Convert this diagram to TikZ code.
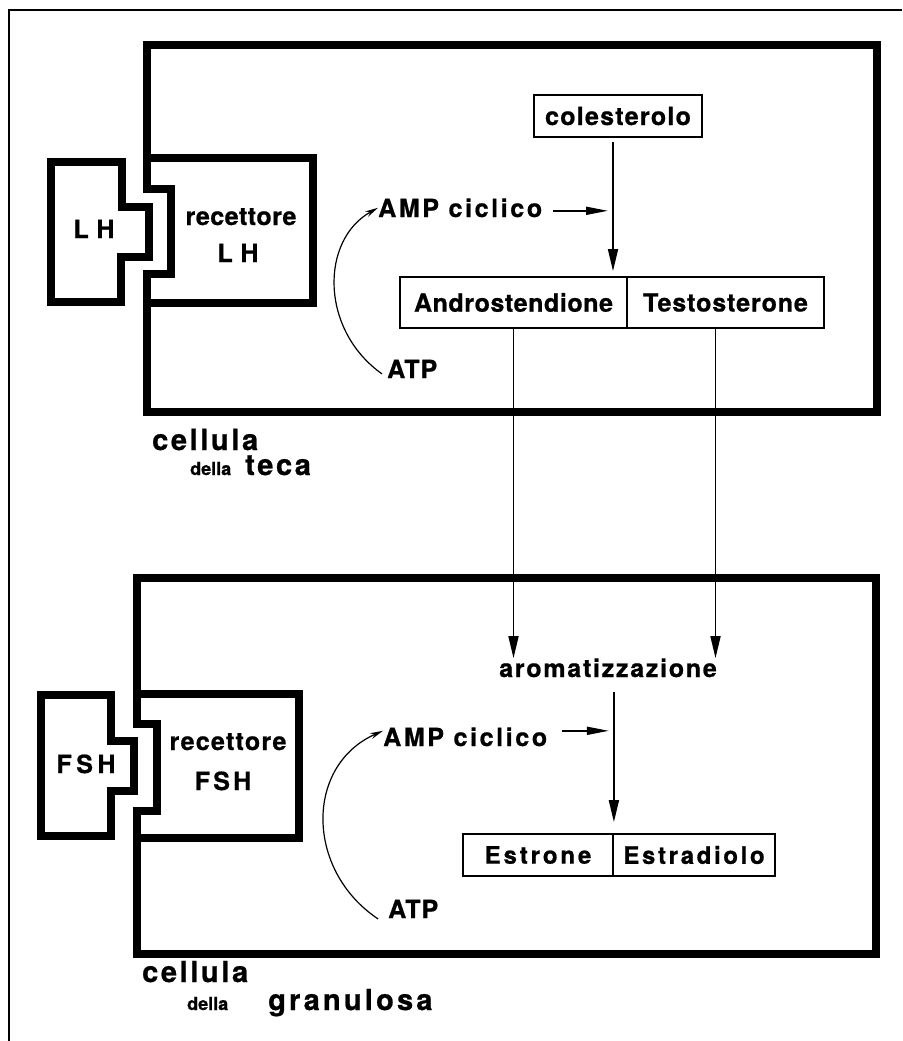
\documentclass[tikz,border=0pt]{standalone}
\usepackage{fontspec}
\newfontfamily\hv{TeX Gyre Heros}[LetterSpace=4,FakeBold=0.8]
\usetikzlibrary{arrows.meta,calc}
\tikzset{
  wall/.style={line width=8.5pt, line join=miter, miter limit=10},
  frame/.style={line width=2.3pt},
  lbl/.style={inner sep=0pt, font=\hv\bfseries\fontsize{25pt}{25pt}\selectfont},
  big/.style={inner sep=0pt, font=\hv\bfseries\fontsize{29pt}{29pt}\selectfont},
  small/.style={inner sep=0pt, font=\hv\bfseries\fontsize{18pt}{18pt}\selectfont},
  box/.style={draw, line width=1.8pt, inner sep=0pt, font=\hv\bfseries\fontsize{25pt}{25pt}\selectfont},
  flow/.style={line width=1.7pt, -{Triangle[length=22pt,width=10pt]}},
  side/.style={line width=1.7pt, -{Triangle[length=22pt,width=8pt]}},
  loop/.style={line width=1.2pt, -{Stealth[length=13pt,width=6pt]}},
}
\begin{document}
\begin{tikzpicture}[x=1pt,y=-1pt]
\useasboundingbox (0,0) rectangle (902,1041);
% outer frame
\coordinate (fbl) at (9,1041);
\coordinate (ftl) at (9,10);
\coordinate (ftr) at (902,10);
\draw[frame] (fbl) -- (ftl) -- (ftr);

% ===== upper cell (teca) =====
\draw[wall] (147,45) -- (877,45) -- (877,412) -- (147,412) -- (147,274)
  -- (171,274) -- (171,189) -- (147,189) -- cycle;
\draw[wall] (147,158) -- (313,158) -- (313,303) -- (147,303);
\draw[wall] (51,162) -- (122,162) -- (122,207) -- (149,207) -- (149,257)
  -- (121,257) -- (121,302) -- (51,302) -- cycle;
\node[lbl, anchor=base] (lh) at (94,238) {\addfontfeatures{LetterSpace=3}L H};
\node[lbl, anchor=base] (rec1) at (241,225) {\addfontfeatures{LetterSpace=2}recettore};
\node[lbl, anchor=base] (rlh) at (238,262) {\addfontfeatures{LetterSpace=3}L H};

\node[box, minimum width=168pt, minimum height=42pt] (col) at (618,116) {\addfontfeatures{LetterSpace=5}colesterolo};
\node[box, minimum width=227pt, minimum height=51pt] (andro) at (513.5,302.5) {\addfontfeatures{LetterSpace=2.3}Androstendione};
\node[box, minimum width=197pt, minimum height=51pt] (testo) at (725.5,302.5) {\addfontfeatures{LetterSpace=3.6}Testosterone};

\node[lbl, anchor=base west] (amp1) at (378,217) {\addfontfeatures{LetterSpace=10.5}AMP ciclico};
\node[lbl, anchor=base west] (atp1) at (387,378) {\addfontfeatures{LetterSpace=4}ATP};

\coordinate (v1) at ([xshift=-5pt]col.south);
\draw[flow, shorten <=4pt, shorten >=5pt] (v1) -- (v1 |- andro.north);
\draw[side, shorten <=11pt, shorten >=5pt] ([yshift=-3pt]amp1.east) -- ([yshift=-3pt]amp1.east -| v1);
\draw[loop] ([shift={(-5pt,-5pt)}]atp1.west) .. controls (320,330) and (320,240) .. (amp1.west);

\node[big, anchor=base west] (cel1) at (152,450) {\addfontfeatures{LetterSpace=9}cellula};
\node[small, anchor=base west] (del1) at (190,475) {\addfontfeatures{LetterSpace=0}della};
\node[big, anchor=base west] (teca) at (245,475) {\addfontfeatures{LetterSpace=9}teca};

% ===== lower cell (granulosa) =====
\draw[wall] (137,578) -- (876,578) -- (876,954) -- (137,954) -- (137,811)
  -- (157,811) -- (157,724) -- (137,724) -- cycle;
\draw[wall] (137,694) -- (299,694) -- (299,838) -- (137,838);
\draw[wall] (41,695) -- (111,695) -- (111,741) -- (134,741) -- (134,791)
  -- (111,791) -- (111,836) -- (41,836) -- cycle;
\node[lbl, anchor=base] (fsh) at (86,773) {\addfontfeatures{LetterSpace=18}FSH};
\node[lbl, anchor=base] (rec2) at (228,750) {\addfontfeatures{LetterSpace=5}recettore};
\node[lbl, anchor=base] (rfsh) at (223,790) {\addfontfeatures{LetterSpace=13}FSH};

\node[lbl, anchor=base] (arom) at (608,677) {\addfontfeatures{LetterSpace=7}aromatizzazione};
\node[box, minimum width=150pt, minimum height=42pt, font=\hv\bfseries\fontsize{24pt}{24pt}\selectfont] (estrone) at (538,855) {\addfontfeatures{LetterSpace=12}Estrone};
\node[box, minimum width=162pt, minimum height=42pt, font=\hv\bfseries\fontsize{24pt}{24pt}\selectfont] (estradiolo) at (694,855) {\addfontfeatures{LetterSpace=11}Estradiolo};

\node[lbl, anchor=base west] (amp2) at (383,746) {\addfontfeatures{LetterSpace=10.5}AMP ciclico};
\node[lbl, anchor=base west] (atp2) at (388,918) {\addfontfeatures{LetterSpace=4}ATP};

\coordinate (v2) at (estrone.north east);
\draw[flow] (andro.south) -- (andro.south |- arom.north);
\draw[flow] ([xshift=-10pt]testo.south) -- ([xshift=-10pt]testo.south |- arom.north);
\draw[flow, shorten <=15pt, shorten >=11pt] (v2 |- arom.south) -- (v2);
\draw[side, shorten <=15pt, shorten >=5pt] ([yshift=6pt]amp2.east) -- ([yshift=6pt]amp2.east -| v2);
\draw[loop] ([shift={(-10pt,-10pt)}]atp2.west) .. controls (305,870) and (305,765) .. ([yshift=6pt]amp2.west);

\node[big, anchor=base west] (cel2) at (142,982) {\addfontfeatures{LetterSpace=9}cellula};
\node[small, anchor=base west] (del2) at (187,1010) {\addfontfeatures{LetterSpace=0}della};
\node[big, anchor=base west] (gran) at (268,1010) {\addfontfeatures{LetterSpace=11}granulosa};
\end{tikzpicture}
\end{document}
